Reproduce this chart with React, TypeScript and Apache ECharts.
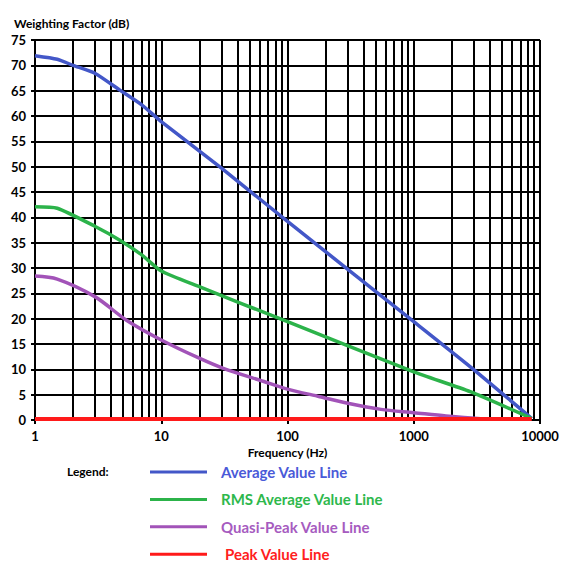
import React, { useEffect, useRef } from "react";
import * as echarts from "echarts";

const avgFreq = [1, 1.5, 2, 3, 4.7, 7, 10, 30, 100, 1000, 3000, 8600];
const avgVals = [71.9, 71.2, 70, 68.4, 65.1, 62.2, 58.9, 49.7, 39.2, 19.4, 9.9, 0.3];

const rmsFreq = [1, 1.5, 3, 4.7, 7, 10, 20, 100, 1000, 2800, 8600];
const rmsVals = [42.1, 41.8, 38.2, 35.5, 32.6, 29.4, 26.3, 19.4, 9.5, 5.6, 0.3];

const qpFreq = [1, 1.5, 3, 5.3, 10, 20, 31, 65, 100, 180, 300, 550, 1000, 1800, 3200, 4500];
const qpVals = [28.4, 27.8, 24.3, 19.7, 15.8, 12.2, 10.2, 7.6, 6.1, 4.6, 3.3, 2.1, 1.45, 0.8, 0.3, 0.2];

const peakFreq = [1, 8600];
const peakVals = [0.2, 0.2];

const decades = [1, 10, 100, 1000];
const minorSteps = [2, 3, 4, 5, 6, 7, 8, 9];

const seriesNames = ["Average Value Line", "RMS Average Value Line", "Quasi-Peak Value Line", "Peak Value Line"];
const lineColors = ["#4357c8", "#2cb34a", "#a253b8", "#ff1a1a"];
const textColors = ["#4a5ad8", "#2eb84c", "#a65bbf", "#ff2020"];

const FONT = "Lato, 'Open Sans', sans-serif";

function pairs(xs: number[], ys: number[]) {
  return xs.map((x, i) => [x, ys[i]]);
}

export default function App() {
  const ref = useRef<HTMLDivElement>(null);
  useEffect(() => {
    if (!ref.current) return;
    const chart = echarts.init(ref.current, undefined, { renderer: "svg" });
    const minorLines: { xAxis: number }[] = [];
    decades.forEach((d) => minorSteps.forEach((m) => minorLines.push({ xAxis: d * m })));

    chart.setOption({
      animation: false,
      backgroundColor: "#fff",
      title: {
        text: "Weighting Factor (dB)",
        left: 9,
        top: 12,
        textStyle: { fontFamily: FONT, fontWeight: "bold", fontSize: 12, color: "#000" },
      },
      grid: { left: 35, right: 25, top: 40, bottom: 143, containLabel: false },
      xAxis: {
        type: "log",
        logBase: 10,
        min: 1,
        max: 10000,
        name: "Frequency (Hz)",
        nameLocation: "middle",
        nameGap: 24,
        nameTextStyle: { fontFamily: FONT, fontWeight: "bold", fontSize: 12, color: "#000" },
        axisLine: { show: true, lineStyle: { color: "#000", width: 2 } },
        axisTick: { show: true, length: 4, lineStyle: { color: "#000", width: 2 } },
        axisLabel: {
          fontFamily: FONT,
          fontWeight: "bold",
          fontSize: 13,
          color: "#000",
          margin: 9,
          formatter: (v: number) => String(Math.round(v)),
        },
        splitLine: { show: true, lineStyle: { color: "#000", width: 2 } },
      },
      yAxis: {
        type: "value",
        min: 0,
        max: 75,
        interval: 5,
        axisLine: { show: true, lineStyle: { color: "#000", width: 2 } },
        axisTick: { show: true, length: 4, lineStyle: { color: "#000", width: 2 } },
        axisLabel: { fontFamily: FONT, fontWeight: "bold", fontSize: 13, color: "#000", margin: 9 },
        splitLine: { show: true, lineStyle: { color: "#000", width: 2 } },
      },
      legend: {
        orient: "vertical",
        left: 145,
        top: 459,
        height: 130,
        icon: "rect",
        itemWidth: 57,
        itemHeight: 3,
        itemGap: 11.4,
        selectedMode: false,
        textStyle: { fontFamily: FONT, fontWeight: "bold", fontSize: 15, lineHeight: 16 },
        data: seriesNames.map((n, i) => ({
          name: n,
          itemStyle: { color: lineColors[i] },
          textStyle: { color: textColors[i], padding: [0, 0, 0, i === 3 ? 13 : 9] },
        })),
      },
      graphic: [
        {
          type: "text",
          left: 67,
          top: 465,
          style: { text: "Legend:", fontFamily: FONT, fontWeight: "bold", fontSize: 12, fill: "#000" },
        },
      ],
      series: [
        {
          name: "grid",
          type: "line",
          data: [],
          z: 1,
          silent: true,
          markLine: {
            silent: true,
            symbol: "none",
            label: { show: false },
            lineStyle: { color: "#000", width: 2, type: "solid" },
            data: minorLines,
          },
        },
        {
          name: seriesNames[0],
          type: "line",
          data: pairs(avgFreq, avgVals),
          smooth: 0.2,
          showSymbol: false,
          z: 5,
          lineStyle: { color: lineColors[0], width: 3.5 },
          itemStyle: { color: lineColors[0] },
        },
        {
          name: seriesNames[1],
          type: "line",
          data: pairs(rmsFreq, rmsVals),
          smooth: 0.2,
          showSymbol: false,
          z: 5,
          lineStyle: { color: lineColors[1], width: 3.5 },
          itemStyle: { color: lineColors[1] },
        },
        {
          name: seriesNames[2],
          type: "line",
          data: pairs(qpFreq, qpVals),
          smooth: 0.3,
          showSymbol: false,
          z: 5,
          lineStyle: { color: lineColors[2], width: 3.5 },
          itemStyle: { color: lineColors[2] },
        },
        {
          name: seriesNames[3],
          type: "line",
          data: pairs(peakFreq, peakVals),
          showSymbol: false,
          z: 6,
          lineStyle: { color: lineColors[3], width: 4 },
          itemStyle: { color: lineColors[3] },
        },
      ],
    });
    return () => chart.dispose();
  }, []);
  return (
    <div
      ref={ref}
      style={{ position: "absolute", left: 0, top: 0, width: 565, height: 563, background: "#fff" }}
    />
  );
}
